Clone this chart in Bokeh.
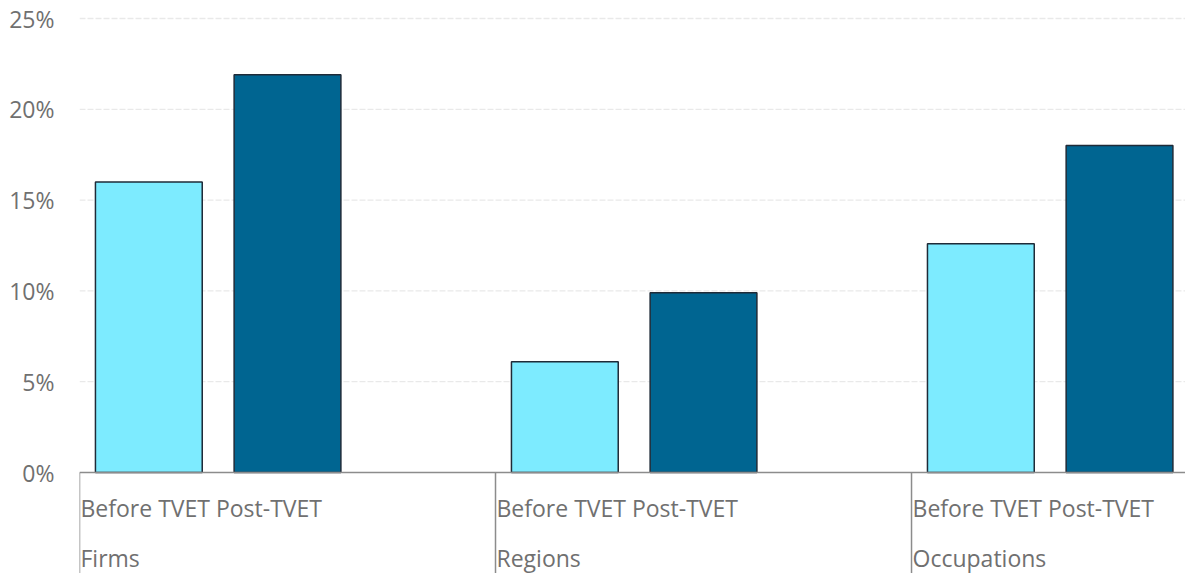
from bokeh.plotting import figure
from bokeh.models import FixedTicker, Span, NumeralTickFormatter
from bokeh.core.properties import value
from bokeh.embed import file_html
from bokeh.resources import INLINE

# Share of workers (%) by grouping, before and after TVET
groups = ["Firms", "Regions", "Occupations"]
stages = ["Before TVET", "Post-TVET"]
before_tvet = [16.0, 6.1, 12.6]
post_tvet = [21.9, 9.9, 18.0]
y_ticks = [0, 5, 10, 15, 20, 25]

SLOTS_PER_GROUP = 3          # two bars plus one empty slot per group
BAR_WIDTH = 0.77
TEXT_COLOR = "#707070"
FONT = "Open Sans"
FONT_SIZE = "23px"

W, H = 1185, 573
LEFT = 79
PX_PER_UNIT = 454 / 25.0      # vertical pixels per percentage point
PX_PER_SLOT = 138.67

p = figure(
    width=W, height=H,
    output_backend="svg", toolbar_location=None,
    x_range=(0, (W - LEFT) / PX_PER_SLOT),
    y_range=(-(H - 472) / PX_PER_UNIT, 25 + 18 / PX_PER_UNIT),
    min_border_left=LEFT, min_border_right=0, min_border_top=0, min_border_bottom=0,
)
p.outline_line_color = None
p.background_fill_color = "white"
p.border_fill_color = "white"
p.xaxis.visible = False
p.xgrid.visible = False
p.ygrid.visible = False

# Left axis: percentage labels only
yax = p.yaxis[0]
yax.ticker = FixedTicker(ticks=y_ticks)
yax.formatter = NumeralTickFormatter(format="0")
yax.major_label_overrides = {t: f"{t}%" for t in y_ticks}
yax.axis_line_color = None
yax.major_tick_line_color = None
yax.minor_tick_line_color = None
yax.major_label_standoff = 19
yax.major_label_text_font = FONT
yax.major_label_text_font_size = FONT_SIZE
yax.major_label_text_color = TEXT_COLOR

# Dashed horizontal gridlines, behind the bars
for t in y_ticks[1:]:
    p.add_layout(Span(location=t, dimension="width", line_color="#e9e9e9",
                      line_width=1.3, line_dash="6 2", level="underlay"))

# Bars
x_before = [SLOTS_PER_GROUP * i + 0.5 for i in range(len(groups))]
x_post = [SLOTS_PER_GROUP * i + 1.5 for i in range(len(groups))]
p.vbar(x=x_before, top=before_tvet, bottom=0, width=BAR_WIDTH,
       fill_color="#7debff", line_color="#1f2b38", line_width=1.5)
p.vbar(x=x_post, top=post_tvet, bottom=0, width=BAR_WIDTH,
       fill_color="#006591", line_color="#1f2b38", line_width=1.5)

# Category axis line and group separators
p.add_layout(Span(location=0, dimension="width", line_color="#8c8c8c", line_width=1.5))
starts = [SLOTS_PER_GROUP * i for i in range(len(groups))]
p.segment(x0=starts, y0=[0] * len(groups), x1=starts,
          y1=[-(H - 472) / PX_PER_UNIT] * len(groups),
          line_color="#8c8c8c", line_width=1.5)

# Category labels (stage names, then group names)
label_x = [s + 1 / PX_PER_SLOT for s in starts]
p.text(x=label_x, y=[-35 / PX_PER_UNIT] * len(groups),
       text=[" ".join(stages)] * len(groups),
       text_font=value(FONT), text_font_size=FONT_SIZE, text_color=TEXT_COLOR,
       text_align="left", text_baseline="middle")
p.text(x=label_x, y=[-85 / PX_PER_UNIT] * len(groups), text=groups,
       text_font=value(FONT), text_font_size=FONT_SIZE, text_color=TEXT_COLOR,
       text_align="left", text_baseline="middle")

open("out.html", "w").write(file_html(p, INLINE))
